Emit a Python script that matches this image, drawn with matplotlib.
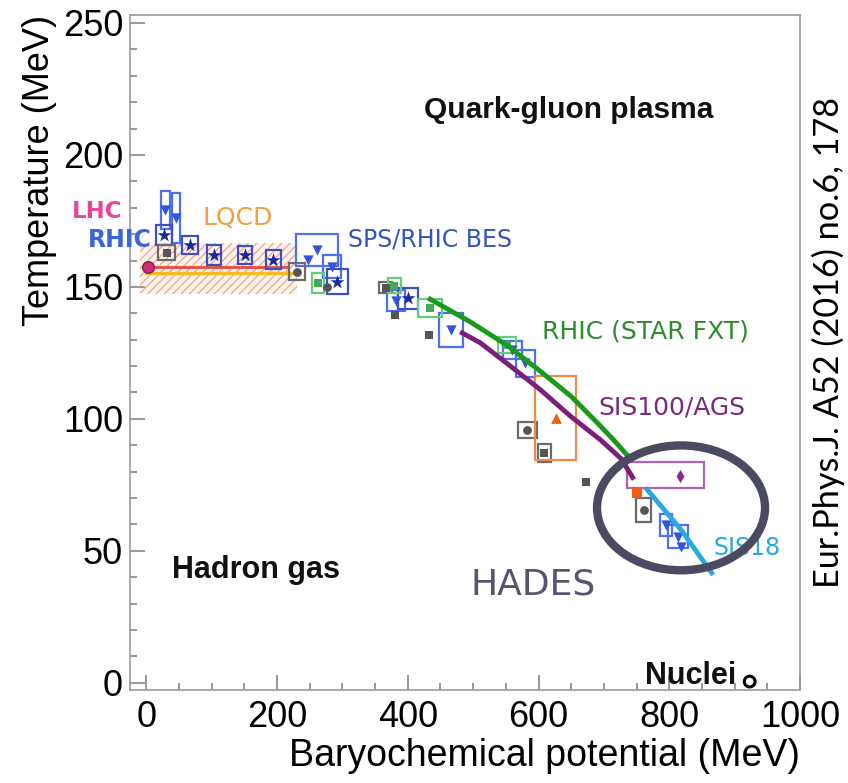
import matplotlib
matplotlib.use("Agg")
import matplotlib.pyplot as plt
from matplotlib.patches import Rectangle, Ellipse
from matplotlib.ticker import MultipleLocator

# ---------------- data (mu_B [MeV], T [MeV]) ----------------
# LQCD crossover band and lines
lqcd_mu = [-10, 230]
lqcd_T_lo, lqcd_T_hi = 147.5, 166.5
lqcd_red_T = 157.6
lqcd_yel_T = 155.3

# LHC point
lhc_mu = [2]
lhc_T = [157.6]

# RHIC / BES stars (with box half-widths)
star_mu = [27, 67, 104, 151, 194, 292, 400]
star_T = [169.7, 165.9, 162.1, 162.1, 160.2, 152.0, 145.7]
star_dmu = [12, 12.5, 10.5, 10.5, 11.5, 16, 15]
star_dT = [3.8, 3.5, 3.8, 3.4, 3.6, 4.7, 4.0]

# blue down-triangles
tri_mu = [29, 46, 261, 248, 284, 382, 466, 560, 580, 795, 813, 818]
tri_T = [179.2, 176.1, 164.0, 160.2, 157.7, 144.8, 133.7, 126.0, 121.0, 59.8, 55.4, 51.6]
tri_dmu = [7, 6, 32, 0, 14.5, 14, 18, 14, 14, 9, 15, 0]
tri_dT = [7.2, 9.3, 6.0, 0, 4.2, 4.0, 6.4, 3.5, 5.0, 4.1, 4.4, 0]

# grey points (circles / squares)
grey_mu = [31, 230, 277, 366, 381, 432, 583, 609, 672, 761]
grey_T = [162.9, 155.8, 150.1, 149.7, 139.4, 131.8, 95.8, 87.1, 76.2, 65.5]
grey_dmu = [13, 12.3, 0, 10, 0, 0, 14.6, 10, 0, 11.5]
grey_dT = [2.8, 3.2, 0, 2.0, 0, 0, 3.2, 3.4, 0, 4.7]
grey_mark = ['s', 'o', 'o', 's', 's', 's', 'o', 's', 's', 'o']

# green points
green_mu = [263, 379, 434, 552]
green_T = [151.4, 150.5, 141.9, 128.0]
green_dmu = [9.4, 10, 19, 14]
green_dT = [3.8, 2.7, 3.4, 3.2]

# orange points
orange_mu = [626, 750]
orange_T = [100.3, 71.9]
orange_dmu = [32, 0]
orange_dT = [16, 0]

# purple (HADES-like) point
purple_mu = [816]
purple_T = [78.5]
purple_box = (736, 853, 73.8, 83.8)

# freeze-out curves
rhic_fxt_mu = [431, 496, 551, 603, 650, 690, 715, 738]
rhic_fxt_T = [145.8, 136.7, 128.0, 118.0, 108.5, 98.5, 92.0, 85.6]
sis100_mu = [480, 511, 557, 603, 649, 695, 726, 746]
sis100_T = [133.0, 128.8, 120.0, 111.0, 101.0, 92.0, 85.0, 77.0]
sis18_mu = [764, 818, 867]
sis18_T = [73.9, 58.0, 40.9]

# nuclear matter
nuclei_mu = [923]
nuclei_T = [0.5]

# HADES ellipse
ell_center = (818, 66.3)
ell_w, ell_h = 257, 47.3

xticks = [0, 200, 400, 600, 800, 1000]
yticks = [0, 50, 100, 150, 200, 250]

# ---------------- plotting ----------------
fig = plt.figure(figsize=(8.48, 7.83), dpi=100)
ax = fig.add_axes([130/848, 1-690/783, 670/848, 675/783])
ax.set_xlim(-25, 1000)
ax.set_ylim(-2.7, 253)

AX_FONT = 'Liberation Sans'
LAB_FONT = 'DejaVu Sans'

# LQCD band
ax.fill_between(lqcd_mu, lqcd_T_lo, lqcd_T_hi, facecolor='none',
                edgecolor='#f6a98a', hatch='////', linewidth=0, zorder=1)
ax.fill_between(lqcd_mu, lqcd_T_lo, lqcd_T_hi, facecolor='#fdeee6',
                edgecolor='none', alpha=0.6, zorder=0.5)
ax.plot([lqcd_mu[0] + 10, 215], [lqcd_red_T] * 2, color='#ee4a3a', lw=2, zorder=2)
ax.plot([lqcd_mu[0] + 10, 225], [lqcd_yel_T] * 2, color='#f7bb22', lw=2.5, zorder=2)


def boxes(mus, Ts, dmus, dTs, color, lw=1.6):
    for m, t, dm, dt in zip(mus, Ts, dmus, dTs):
        if dm > 0 and dt > 0:
            ax.add_patch(Rectangle((m - dm, t - dt), 2 * dm, 2 * dt, fill=False,
                                   edgecolor=color, lw=lw, zorder=3))


boxes(tri_mu, tri_T, tri_dmu, tri_dT, '#4d6ff0')
boxes(star_mu, star_T, star_dmu, star_dT, '#3a4fc8')
boxes(grey_mu, grey_T, grey_dmu, grey_dT, '#6b6b6b')
boxes(green_mu, green_T, green_dmu, green_dT, '#66cc77')
boxes(orange_mu, orange_T, orange_dmu, orange_dT, '#f08a4a')
ax.add_patch(Rectangle((purple_box[0], purple_box[2]), purple_box[1] - purple_box[0],
                       purple_box[3] - purple_box[2], fill=False, edgecolor='#b060b8',
                       lw=1.6, zorder=3))

ax.scatter(tri_mu, tri_T, marker='v', s=55, color='#3355dd', zorder=4, linewidths=0)
ax.scatter(star_mu, star_T, marker='*', s=110, color='#1a2a9a', zorder=4, linewidths=0)
for m, t, mk in zip(grey_mu, grey_T, grey_mark):
    ax.scatter([m], [t], marker=mk, s=40, color='#555555', zorder=4, linewidths=0)
ax.scatter(green_mu, green_T, marker='s', s=40, color='#44aa55', zorder=4, linewidths=0)
ax.scatter(orange_mu[:1], orange_T[:1], marker='^', s=60, color='#f06010', zorder=4, linewidths=0)
ax.scatter(orange_mu[1:], orange_T[1:], marker='s', s=60, color='#f06010', zorder=4, linewidths=0)
ax.scatter(purple_mu, purple_T, marker='d', s=45, color='#8a2a8a', zorder=4, linewidths=0)
ax.scatter(lhc_mu, lhc_T, marker='o', s=70, color='#d02a7a', edgecolors='#802050',
           linewidths=1, zorder=5)

# curves
ax.plot(rhic_fxt_mu, rhic_fxt_T, color='#1a9a1a', lw=3.5, zorder=5, solid_capstyle='butt')
ax.plot(sis100_mu, sis100_T, color='#7b1f7b', lw=3.5, zorder=5, solid_capstyle='butt')
ax.plot(sis18_mu, sis18_T, color='#2aa8e0', lw=3.5, zorder=5, solid_capstyle='butt')

# nuclei
ax.scatter(nuclei_mu, nuclei_T, marker='o', s=60, facecolors='none', edgecolors='black',
           linewidths=2.2, zorder=5)

# ellipse
ax.add_patch(Ellipse(ell_center, ell_w, ell_h, fill=False, edgecolor='#4a4a60',
                     lw=6, zorder=6))

# labels in plot
ax.text(646, 217, 'Quark-gluon plasma', ha='center', va='center', fontsize=21.5,
        fontweight='bold', family=AX_FONT, color='#111111')
ax.text(168, 42.8, 'Hadron gas', ha='center', va='center', fontsize=22,
        fontweight='bold', family=AX_FONT, color='#111111')
ax.text(591, 37.2, 'HADES', ha='center', va='center', fontsize=26,
        family=LAB_FONT, color='#555570')
ax.text(833, 2.5, 'Nuclei', ha='center', va='center', fontsize=22,
        fontweight='bold', family=AX_FONT, color='#111111')
ax.text(-75, 178.4, 'LHC', ha='center', va='center', fontsize=16.5,
        fontweight='bold', family=LAB_FONT, color='#e8449a', clip_on=False)
ax.text(-40, 167.8, 'RHIC', ha='center', va='center', fontsize=17,
        fontweight='bold', family=LAB_FONT, color='#3a66dd', clip_on=False)
ax.text(140, 176.1, 'LQCD', ha='center', va='center', fontsize=18,
        family=LAB_FONT, color='#f0a040')
ax.text(434, 167.8, 'SPS/RHIC BES', ha='center', va='center', fontsize=17,
        family=LAB_FONT, color='#3355bb')
ax.text(764, 133, 'RHIC (STAR FXT)', ha='center', va='center', fontsize=18,
        family=LAB_FONT, color='#2e8b2e')
ax.text(804, 104.2, 'SIS100/AGS', ha='center', va='center', fontsize=18,
        family=LAB_FONT, color='#7a2a7a')
ax.text(919, 51.1, 'SIS18', ha='center', va='center', fontsize=17,
        family=LAB_FONT, color='#2aa8e0')

# axes styling
for sp in ax.spines.values():
    sp.set_color('#999999')
    sp.set_linewidth(1.2)
ax.set_xticks(xticks)
ax.set_yticks(yticks)
ax.xaxis.set_minor_locator(MultipleLocator(50))
ax.yaxis.set_minor_locator(MultipleLocator(10))
ax.tick_params(which='both', direction='in', color='#888888', width=1.2)
ax.tick_params(which='major', length=11, labelsize=26, pad=5)
ax.tick_params(axis='x', which='major', pad=7)
ax.tick_params(which='minor', length=5)
for lab in ax.get_xticklabels() + ax.get_yticklabels():
    lab.set_family(AX_FONT)

ax.set_xlabel('Baryochemical potential (MeV)', loc='right', fontsize=27,
              family=AX_FONT, labelpad=2)
ax.set_ylabel('Temperature (MeV)', loc='top', fontsize=26, family=AX_FONT, labelpad=4)

fig.text(828/848, 1 - 342/783, 'Eur.Phys.J. A52 (2016) no.6, 178', rotation=90,
         ha='center', va='center', fontsize=24.7, family='Lato', color='black')

fig.savefig('out.png', dpi=100)
